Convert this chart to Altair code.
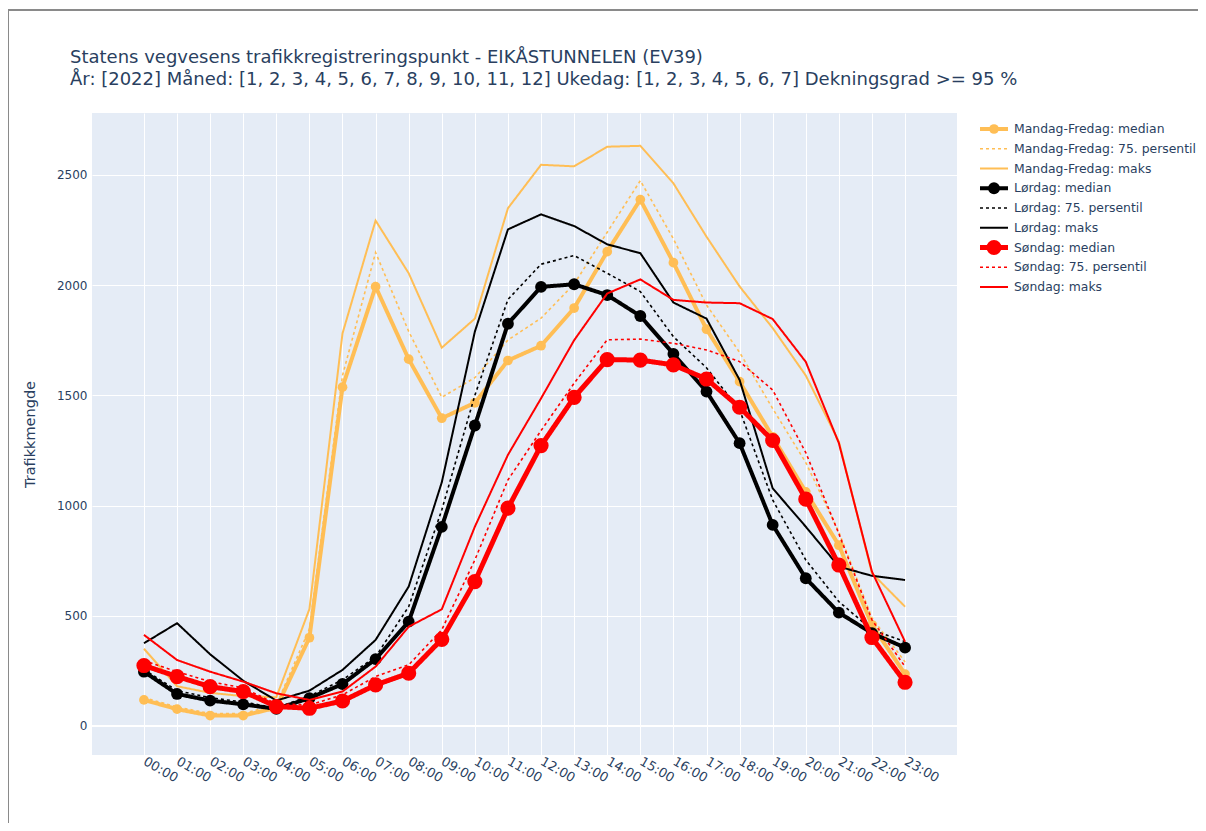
import json
import altair as alt
import pandas as pd

# ---------------- data ----------------
hours = ["00:00", "01:00", "02:00", "03:00", "04:00", "05:00", "06:00", "07:00",
         "08:00", "09:00", "10:00", "11:00", "12:00", "13:00", "14:00", "15:00",
         "16:00", "17:00", "18:00", "19:00", "20:00", "21:00", "22:00", "23:00"]
hour_index = list(range(24))

mf_median = [118, 76, 47, 47, 82, 400, 1537, 1993, 1664, 1396, 1466, 1658,
             1725, 1896, 2152, 2388, 2102, 1800, 1562, 1312, 1062, 820, 458, 235]
mf_p75 = [128, 86, 56, 56, 95, 440, 1590, 2148, 1790, 1491, 1580, 1751,
          1850, 2005, 2240, 2474, 2210, 1910, 1695, 1440, 1195, 880, 490, 290]
mf_max = [350, 180, 150, 135, 130, 530, 1781, 2293, 2054, 1716, 1848, 2349,
          2546, 2539, 2628, 2632, 2462, 2220, 1994, 1805, 1590, 1290, 693, 541]

lo_median = [246, 145, 115, 98, 77, 126, 190, 303, 473, 903, 1363, 1825,
             1992, 2004, 1955, 1860, 1688, 1517, 1283, 912, 670, 514, 421, 355]
lo_p75 = [256, 160, 128, 108, 82, 135, 209, 314, 541, 980, 1500, 1935,
          2095, 2134, 2054, 1971, 1766, 1625, 1434, 1025, 753, 564, 436, 382]
lo_max = [375, 466, 325, 205, 115, 160, 254, 390, 632, 1105, 1789, 2253,
          2321, 2268, 2185, 2145, 1921, 1848, 1570, 1078, 904, 723, 681, 662]

so_median = [274, 224, 178, 156, 88, 80, 113, 186, 239, 393, 655, 988,
             1272, 1491, 1662, 1660, 1638, 1574, 1446, 1295, 1029, 730, 401, 198]
so_p75 = [296, 246, 201, 172, 100, 95, 141, 224, 277, 436, 753, 1116,
          1340, 1555, 1752, 1755, 1736, 1706, 1653, 1524, 1240, 872, 481, 269]
so_max = [413, 299, 246, 201, 148, 118, 156, 269, 450, 529, 904, 1230,
          1486, 1750, 1962, 2026, 1933, 1921, 1918, 1846, 1652, 1283, 700, 382]

series_names = [
    "Mandag-Fredag: median", "Mandag-Fredag: 75. persentil", "Mandag-Fredag: maks",
    "Lørdag: median", "Lørdag: 75. persentil", "Lørdag: maks",
    "Søndag: median", "Søndag: 75. persentil", "Søndag: maks",
]
series_values = [mf_median, mf_p75, mf_max, lo_median, lo_p75, lo_max,
                 so_median, so_p75, so_max]

title_lines = [
    "Statens vegvesens trafikkregistreringspunkt - EIKÅSTUNNELEN (EV39)",
    "År: [2022] Måned: [1, 2, 3, 4, 5, 6, 7, 8, 9, 10, 11, 12] Ukedag: [1, 2, 3, 4, 5, 6, 7] Dekningsgrad >= 95 %",
]
y_ticks = [0, 500, 1000, 1500, 2000, 2500]

# ---------------- styles ----------------
ORANGE = "#FFBE55"
TXT = "#2a3f5f"
FONT = "DejaVu Sans"
series_colors = [ORANGE, ORANGE, ORANGE, "black", "black", "black", "red", "red", "red"]
series_dash = [[1, 0], [3, 3], [1, 0]] * 3
series_width = [4, 1.6, 2, 4, 1.6, 2, 5, 1.6, 2]
marker_size = {0: 95, 3: 140, 6: 230}

rows = []
for name, vals in zip(series_names, series_values):
    for h, v in zip(hour_index, vals):
        rows.append({"series": name, "hour": h, "value": v})
df = pd.DataFrame(rows)
leg_df = pd.DataFrame({"series": series_names, "rank": list(range(len(series_names)))})

x_enc = alt.X(
    "hour:Q",
    scale=alt.Scale(domain=[-1.57, 24.57], nice=False, zero=False),
    axis=alt.Axis(values=hour_index, labelExpr=json.dumps(hours) + "[datum.value]",
                  title=None, labelAngle=30, labelAlign="left", labelBaseline="middle",
                  labelPadding=5, labelFontSize=13, labelOverlap=False),
)
y_enc = alt.Y(
    "value:Q",
    scale=alt.Scale(domain=[-132, 2781], nice=False, zero=False),
    axis=alt.Axis(values=y_ticks, format="d", title="Trafikkmengde", titleAngle=-90,
                  titleX=-62, titleY=321, titleAlign="center", titleBaseline="middle",
                  titleFontSize=14.5, titleFontWeight="normal", titleColor=TXT,
                  titleFont=FONT, labelPadding=5, labelFontSize=12),
)

base = alt.Chart(df)
zero_line = alt.Chart(pd.DataFrame({"value": [0]})).mark_rule(
    color="white", strokeWidth=2).encode(y=y_enc)

main_layers = [zero_line]
for i, name in enumerate(series_names):
    sub = base.transform_filter(alt.datum.series == name)
    main_layers.append(
        sub.mark_line(color=series_colors[i], strokeWidth=series_width[i],
                      strokeDash=series_dash[i]).encode(x=x_enc, y=y_enc)
    )
    if i in marker_size:
        main_layers.append(
            sub.mark_circle(color=series_colors[i], size=marker_size[i], opacity=1)
            .encode(x=x_enc, y=y_enc)
        )
main = alt.layer(*main_layers)

# ---------------- legend ----------------
y_leg = alt.Y("rank:Q", scale=alt.Scale(domain=[0, 8], range=[16, 174], nice=False, zero=False),
              axis=None)
leg_base = alt.Chart(leg_df)
leg_layers = []
for i, name in enumerate(series_names):
    sub = leg_base.transform_filter(alt.datum.series == name)
    leg_layers.append(
        sub.mark_rule(color=series_colors[i], strokeWidth=series_width[i],
                      strokeDash=series_dash[i])
        .encode(x=alt.value(888), x2=alt.value(916), y=y_leg)
    )
    if i in marker_size:
        leg_layers.append(
            sub.mark_circle(color=series_colors[i], size=marker_size[i], opacity=1)
            .encode(x=alt.value(902), y=y_leg)
        )
leg_layers.append(
    leg_base.mark_text(align="left", baseline="middle", fontSize=12.4, font=FONT, color=TXT)
    .encode(x=alt.value(922), y=y_leg, text="series:N")
)
legend = alt.layer(*leg_layers)

frame = alt.Chart(pd.DataFrame({"k": [0]})).mark_rect(
    fillOpacity=0, stroke="#8a8a8a", strokeWidth=2
).encode(x=alt.value(-84), x2=alt.value(1140), y=alt.value(-103), y2=alt.value(760))

chart = (
    alt.layer(main, legend, frame)
    .resolve_scale(y="independent")
    .properties(
        width=865,
        height=642,
        autosize=alt.AutoSizeParams(type="none"),
        padding={"left": 84, "top": 105, "right": 241, "bottom": 68},
        background="white",
        title=alt.TitleParams(
            text=title_lines, anchor="start", frame="group", dx=-22, offset=-98,
            fontSize=18, font=FONT, fontWeight="normal", color=TXT, lineHeight=22,
            baseline="bottom",
        ),
    )
    .configure_view(fill="#E5ECF6", stroke=None)
    .configure_axis(
        grid=True, gridColor="white", gridWidth=1, domain=False, ticks=False,
        labelColor=TXT, labelFont=FONT,
    )
)

chart.save("out.html", embed_options={"renderer": "svg", "actions": False})
